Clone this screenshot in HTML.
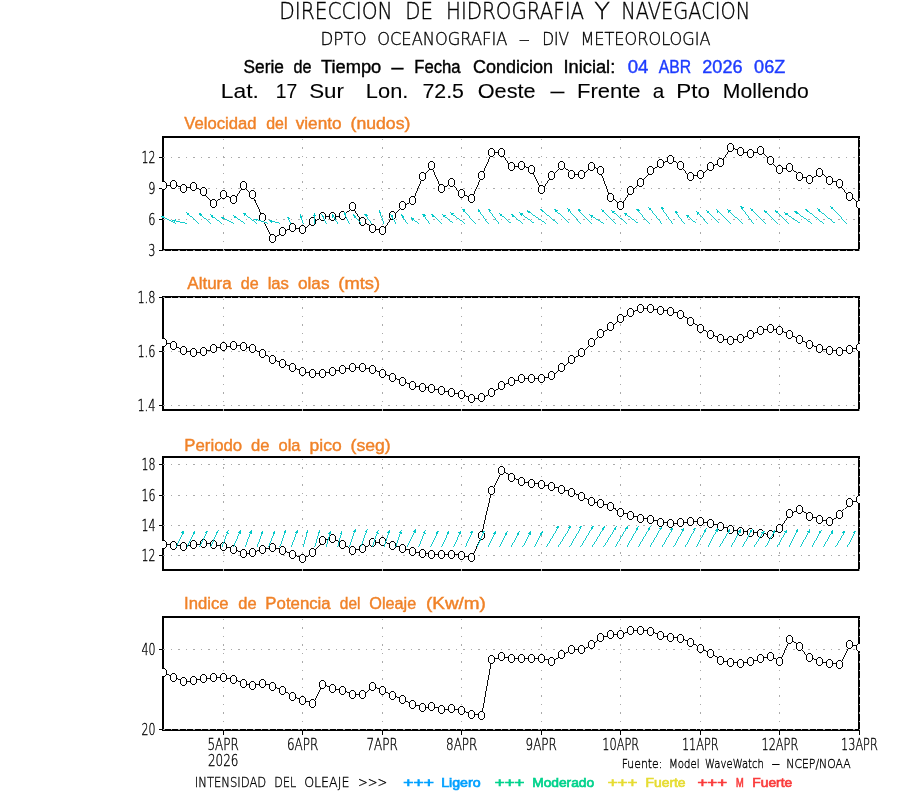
<!DOCTYPE html>
<html lang="es"><head><meta charset="utf-8"><title>Serie de Tiempo - Frente a Pto Mollendo</title>
<style>html,body{margin:0;padding:0;background:#fff;overflow:hidden}svg{display:block;will-change:transform}text{white-space:pre}.t{font-family:"DejaVu Sans","Liberation Sans",sans-serif;font-weight:200;word-spacing:.25em;stroke:#000;stroke-width:.35px}.m{font-family:"Liberation Sans",sans-serif;word-spacing:.25em;stroke-width:.4px}</style>
</head><body>
<svg width="900" height="800" viewBox="0 0 900 800">
<rect width="900" height="800" fill="#fff"/>
<g id="header">
<text y="18.9" font-size="22.9" class="t" fill="#000"><tspan x="279.18" textLength="113.46" lengthAdjust="spacingAndGlyphs">DIRECCION</tspan> <tspan x="405.28" textLength="27.66" lengthAdjust="spacingAndGlyphs">DE</tspan> <tspan x="446.08" textLength="138.06" lengthAdjust="spacingAndGlyphs">HIDROGRAFIA</tspan> <tspan x="594.16" textLength="15.77" lengthAdjust="spacingAndGlyphs">Y</tspan> <tspan x="621.28" textLength="128.96" lengthAdjust="spacingAndGlyphs">NAVEGACION</tspan></text>
<text y="45.3" font-size="17.1" class="t" fill="#000"><tspan x="320.42" textLength="46.14" lengthAdjust="spacingAndGlyphs">DPTO</tspan> <tspan x="377.22" textLength="130.14" lengthAdjust="spacingAndGlyphs">OCEANOGRAFIA</tspan> <tspan x="518.74" textLength="11.13" lengthAdjust="spacingAndGlyphs">–</tspan> <tspan x="542.22" textLength="26.94" lengthAdjust="spacingAndGlyphs">DIV</tspan> <tspan x="580.42" textLength="130.14" lengthAdjust="spacingAndGlyphs">METEOROLOGIA</tspan></text>
<text y="72.7" font-size="18" class="m" fill="#000" stroke="#000"><tspan x="243.58" textLength="40.26" lengthAdjust="spacingAndGlyphs">Serie</tspan> <tspan x="293.58" textLength="17.96" lengthAdjust="spacingAndGlyphs">de</tspan> <tspan x="320.98" textLength="60.26" lengthAdjust="spacingAndGlyphs">Tiempo</tspan> <tspan x="391.56" textLength="11.85" lengthAdjust="spacingAndGlyphs">–</tspan> <tspan x="414.28" textLength="46.26" lengthAdjust="spacingAndGlyphs">Fecha</tspan> <tspan x="472.88" textLength="80.16" lengthAdjust="spacingAndGlyphs">Condicion</tspan> <tspan x="563.48" textLength="51.76" lengthAdjust="spacingAndGlyphs">Inicial:</tspan></text>
<text y="72.7" font-size="18" class="m" fill="#1e3cff" stroke="#1e3cff"><tspan x="627.68" textLength="20.66" lengthAdjust="spacingAndGlyphs">04</tspan> <tspan x="658.78" textLength="32.36" lengthAdjust="spacingAndGlyphs">ABR</tspan> <tspan x="702.28" textLength="40.26" lengthAdjust="spacingAndGlyphs">2026</tspan> <tspan x="754.08" textLength="31.16" lengthAdjust="spacingAndGlyphs">06Z</tspan></text>
<text y="98.3" font-size="21" class="m" fill="#000" stroke="#000" style="stroke-width:0.1px"><tspan x="220.86" textLength="38.07" lengthAdjust="spacingAndGlyphs">Lat.</tspan> <tspan x="275.86" textLength="21.47" lengthAdjust="spacingAndGlyphs">17</tspan> <tspan x="309.16" textLength="34.77" lengthAdjust="spacingAndGlyphs">Sur</tspan> <tspan x="365.86" textLength="42.47" lengthAdjust="spacingAndGlyphs">Lon.</tspan> <tspan x="422.46" textLength="41.47" lengthAdjust="spacingAndGlyphs">72.5</tspan> <tspan x="477.76" textLength="57.87" lengthAdjust="spacingAndGlyphs">Oeste</tspan> <tspan x="550.43" textLength="13.89" lengthAdjust="spacingAndGlyphs">–</tspan> <tspan x="576.96" textLength="63.67" lengthAdjust="spacingAndGlyphs">Frente</tspan> <tspan x="652.73" textLength="11.49" lengthAdjust="spacingAndGlyphs">a</tspan> <tspan x="676.16" textLength="33.77" lengthAdjust="spacingAndGlyphs">Pto</tspan> <tspan x="722.86" textLength="85.87" lengthAdjust="spacingAndGlyphs">Mollendo</tspan></text>
</g>
<g id="panel1">
<text y="128.9" font-size="15.8" class="m" fill="#f08228" stroke="#f08228"><tspan x="184.37" textLength="72.21" lengthAdjust="spacingAndGlyphs">Velocidad</tspan> <tspan x="266.17" textLength="21.31" lengthAdjust="spacingAndGlyphs">del</tspan> <tspan x="295.67" textLength="45.91" lengthAdjust="spacingAndGlyphs">viento</tspan> <tspan x="350.57" textLength="59.81" lengthAdjust="spacingAndGlyphs">(nudos)</tspan></text>
<rect x="163.0" y="137" width="696.0" height="113" fill="none" stroke="#000" stroke-width="2" shape-rendering="crispEdges"/>
<g stroke="#aaaaaa" stroke-width="1" shape-rendering="crispEdges" fill="none">
<line x1="163.0" y1="157.6" x2="859.0" y2="157.6" stroke-dasharray="1.7 5.8"/>
<line x1="163.0" y1="188.6" x2="859.0" y2="188.6" stroke-dasharray="1.7 5.8"/>
<line x1="163.0" y1="219.5" x2="859.0" y2="219.5" stroke-dasharray="1.7 5.8"/>
<line x1="163.0" y1="250" x2="859.0" y2="250" stroke-dasharray="1.7 5.8"/>
<line x1="223.16" y1="250.8" x2="223.16" y2="137" stroke-dasharray="1.7 6.8"/>
<line x1="302.7" y1="250.8" x2="302.7" y2="137" stroke-dasharray="1.7 6.8"/>
<line x1="382.24" y1="250.8" x2="382.24" y2="137" stroke-dasharray="1.7 6.8"/>
<line x1="461.79" y1="250.8" x2="461.79" y2="137" stroke-dasharray="1.7 6.8"/>
<line x1="541.33" y1="250.8" x2="541.33" y2="137" stroke-dasharray="1.7 6.8"/>
<line x1="620.87" y1="250.8" x2="620.87" y2="137" stroke-dasharray="1.7 6.8"/>
<line x1="700.41" y1="250.8" x2="700.41" y2="137" stroke-dasharray="1.7 6.8"/>
<line x1="779.96" y1="250.8" x2="779.96" y2="137" stroke-dasharray="1.7 6.8"/>
<line x1="859.5" y1="250.8" x2="859.5" y2="137" stroke-dasharray="1.7 6.8"/>
</g>
<g stroke="#000" stroke-width="1" shape-rendering="crispEdges">
<line x1="159.0" y1="157.6" x2="163.0" y2="157.6"/>
<line x1="159.0" y1="188.6" x2="163.0" y2="188.6"/>
<line x1="159.0" y1="219.5" x2="163.0" y2="219.5"/>
<line x1="159.0" y1="250" x2="163.0" y2="250"/>
</g>
<text x="141.4" y="163.2" font-size="15.4" class="t" fill="#000" textLength="14" lengthAdjust="spacingAndGlyphs">12</text>
<text x="148.2" y="194.2" font-size="15.4" class="t" fill="#000" textLength="7.2" lengthAdjust="spacingAndGlyphs">9</text>
<text x="148.2" y="225.1" font-size="15.4" class="t" fill="#000" textLength="7.2" lengthAdjust="spacingAndGlyphs">6</text>
<text x="148.2" y="255.6" font-size="15.4" class="t" fill="#000" textLength="7.2" lengthAdjust="spacingAndGlyphs">3</text>
<clipPath id="c0"><rect x="162.0" y="137" width="698.0" height="113"/></clipPath>
<g clip-path="url(#c0)" shape-rendering="crispEdges">
<polyline points="163.5,185.5 173.5,184.5 183.5,188.5 193.5,186.5 203.5,191.5 213.5,203.5 223.5,194.5 233.5,199.5 243.5,185.5 252.5,194.5 262.5,217.5 272.5,238.5 282.5,231.5 292.5,227.5 302.5,229.5 312.5,221.5 322.5,216.5 332.5,216.5 342.5,215.5 352.5,206.5 362.5,221.5 372.5,228.5 382.5,230.5 392.5,215.5 402.5,205.5 412.5,200.5 422.5,176.5 431.5,165.5 441.5,188.5 451.5,182.5 461.5,193.5 471.5,198.5 481.5,175.5 491.5,152.5 501.5,152.5 511.5,166.5 521.5,165.5 531.5,169.5 541.5,189.5 551.5,175.5 561.5,165.5 571.5,174.5 581.5,174.5 591.5,166.5 600.5,170.5 610.5,197.5 620.5,205.5 630.5,190.5 640.5,182.5 650.5,170.5 660.5,163.5 670.5,159.5 680.5,165.5 690.5,176.5 700.5,174.5 710.5,166.5 720.5,162.5 730.5,147.5 740.5,151.5 750.5,153.5 760.5,150.5 770.5,160.5 779.5,169.5 789.5,167.5 799.5,176.5 809.5,179.5 819.5,172.5 829.5,180.5 839.5,183.5 849.5,196.5 859.5,204.5" fill="none" stroke="#000" stroke-width="0.95"/>
<g fill="#fff" stroke="#000" stroke-width="1">
<path d="M162.5 181.5h2l2 2v4l-2 2h-2l-2 -2v-4z"/>
<path d="M172.5 180.5h2l2 2v4l-2 2h-2l-2 -2v-4z"/>
<path d="M182.5 184.5h2l2 2v4l-2 2h-2l-2 -2v-4z"/>
<path d="M192.5 182.5h2l2 2v4l-2 2h-2l-2 -2v-4z"/>
<path d="M202.5 187.5h2l2 2v4l-2 2h-2l-2 -2v-4z"/>
<path d="M212.5 199.5h2l2 2v4l-2 2h-2l-2 -2v-4z"/>
<path d="M222.5 190.5h2l2 2v4l-2 2h-2l-2 -2v-4z"/>
<path d="M232.5 195.5h2l2 2v4l-2 2h-2l-2 -2v-4z"/>
<path d="M242.5 181.5h2l2 2v4l-2 2h-2l-2 -2v-4z"/>
<path d="M251.5 190.5h2l2 2v4l-2 2h-2l-2 -2v-4z"/>
<path d="M261.5 213.5h2l2 2v4l-2 2h-2l-2 -2v-4z"/>
<path d="M271.5 234.5h2l2 2v4l-2 2h-2l-2 -2v-4z"/>
<path d="M281.5 227.5h2l2 2v4l-2 2h-2l-2 -2v-4z"/>
<path d="M291.5 223.5h2l2 2v4l-2 2h-2l-2 -2v-4z"/>
<path d="M301.5 225.5h2l2 2v4l-2 2h-2l-2 -2v-4z"/>
<path d="M311.5 217.5h2l2 2v4l-2 2h-2l-2 -2v-4z"/>
<path d="M321.5 212.5h2l2 2v4l-2 2h-2l-2 -2v-4z"/>
<path d="M331.5 212.5h2l2 2v4l-2 2h-2l-2 -2v-4z"/>
<path d="M341.5 211.5h2l2 2v4l-2 2h-2l-2 -2v-4z"/>
<path d="M351.5 202.5h2l2 2v4l-2 2h-2l-2 -2v-4z"/>
<path d="M361.5 217.5h2l2 2v4l-2 2h-2l-2 -2v-4z"/>
<path d="M371.5 224.5h2l2 2v4l-2 2h-2l-2 -2v-4z"/>
<path d="M381.5 226.5h2l2 2v4l-2 2h-2l-2 -2v-4z"/>
<path d="M391.5 211.5h2l2 2v4l-2 2h-2l-2 -2v-4z"/>
<path d="M401.5 201.5h2l2 2v4l-2 2h-2l-2 -2v-4z"/>
<path d="M411.5 196.5h2l2 2v4l-2 2h-2l-2 -2v-4z"/>
<path d="M421.5 172.5h2l2 2v4l-2 2h-2l-2 -2v-4z"/>
<path d="M430.5 161.5h2l2 2v4l-2 2h-2l-2 -2v-4z"/>
<path d="M440.5 184.5h2l2 2v4l-2 2h-2l-2 -2v-4z"/>
<path d="M450.5 178.5h2l2 2v4l-2 2h-2l-2 -2v-4z"/>
<path d="M460.5 189.5h2l2 2v4l-2 2h-2l-2 -2v-4z"/>
<path d="M470.5 194.5h2l2 2v4l-2 2h-2l-2 -2v-4z"/>
<path d="M480.5 171.5h2l2 2v4l-2 2h-2l-2 -2v-4z"/>
<path d="M490.5 148.5h2l2 2v4l-2 2h-2l-2 -2v-4z"/>
<path d="M500.5 148.5h2l2 2v4l-2 2h-2l-2 -2v-4z"/>
<path d="M510.5 162.5h2l2 2v4l-2 2h-2l-2 -2v-4z"/>
<path d="M520.5 161.5h2l2 2v4l-2 2h-2l-2 -2v-4z"/>
<path d="M530.5 165.5h2l2 2v4l-2 2h-2l-2 -2v-4z"/>
<path d="M540.5 185.5h2l2 2v4l-2 2h-2l-2 -2v-4z"/>
<path d="M550.5 171.5h2l2 2v4l-2 2h-2l-2 -2v-4z"/>
<path d="M560.5 161.5h2l2 2v4l-2 2h-2l-2 -2v-4z"/>
<path d="M570.5 170.5h2l2 2v4l-2 2h-2l-2 -2v-4z"/>
<path d="M580.5 170.5h2l2 2v4l-2 2h-2l-2 -2v-4z"/>
<path d="M590.5 162.5h2l2 2v4l-2 2h-2l-2 -2v-4z"/>
<path d="M599.5 166.5h2l2 2v4l-2 2h-2l-2 -2v-4z"/>
<path d="M609.5 193.5h2l2 2v4l-2 2h-2l-2 -2v-4z"/>
<path d="M619.5 201.5h2l2 2v4l-2 2h-2l-2 -2v-4z"/>
<path d="M629.5 186.5h2l2 2v4l-2 2h-2l-2 -2v-4z"/>
<path d="M639.5 178.5h2l2 2v4l-2 2h-2l-2 -2v-4z"/>
<path d="M649.5 166.5h2l2 2v4l-2 2h-2l-2 -2v-4z"/>
<path d="M659.5 159.5h2l2 2v4l-2 2h-2l-2 -2v-4z"/>
<path d="M669.5 155.5h2l2 2v4l-2 2h-2l-2 -2v-4z"/>
<path d="M679.5 161.5h2l2 2v4l-2 2h-2l-2 -2v-4z"/>
<path d="M689.5 172.5h2l2 2v4l-2 2h-2l-2 -2v-4z"/>
<path d="M699.5 170.5h2l2 2v4l-2 2h-2l-2 -2v-4z"/>
<path d="M709.5 162.5h2l2 2v4l-2 2h-2l-2 -2v-4z"/>
<path d="M719.5 158.5h2l2 2v4l-2 2h-2l-2 -2v-4z"/>
<path d="M729.5 143.5h2l2 2v4l-2 2h-2l-2 -2v-4z"/>
<path d="M739.5 147.5h2l2 2v4l-2 2h-2l-2 -2v-4z"/>
<path d="M749.5 149.5h2l2 2v4l-2 2h-2l-2 -2v-4z"/>
<path d="M759.5 146.5h2l2 2v4l-2 2h-2l-2 -2v-4z"/>
<path d="M769.5 156.5h2l2 2v4l-2 2h-2l-2 -2v-4z"/>
<path d="M778.5 165.5h2l2 2v4l-2 2h-2l-2 -2v-4z"/>
<path d="M788.5 163.5h2l2 2v4l-2 2h-2l-2 -2v-4z"/>
<path d="M798.5 172.5h2l2 2v4l-2 2h-2l-2 -2v-4z"/>
<path d="M808.5 175.5h2l2 2v4l-2 2h-2l-2 -2v-4z"/>
<path d="M818.5 168.5h2l2 2v4l-2 2h-2l-2 -2v-4z"/>
<path d="M828.5 176.5h2l2 2v4l-2 2h-2l-2 -2v-4z"/>
<path d="M838.5 179.5h2l2 2v4l-2 2h-2l-2 -2v-4z"/>
<path d="M848.5 192.5h2l2 2v4l-2 2h-2l-2 -2v-4z"/>
<path d="M858.5 200.5h2l2 2v4l-2 2h-2l-2 -2v-4z"/>
</g></g>
<g stroke="#00c8c8" stroke-width="0.92" fill="#00c8c8" shape-rendering="crispEdges">
<path d="M175.8 223.5L160.8 216"/><path stroke="none" d="M164.51 216.18L160.8 216L163.17 218.86Z"/>
<path d="M187.37 223.5L171.97 220.2"/><path stroke="none" d="M175.61 219.45L171.97 220.2L174.98 222.38Z"/>
<path d="M198.93 223.5L186.03 212.2"/><path stroke="none" d="M189.58 213.31L186.03 212.2L187.6 215.57Z"/>
<path d="M210.5 223.5L198.6 212.7"/><path stroke="none" d="M202.13 213.87L198.6 212.7L200.11 216.1Z"/>
<path d="M222.07 223.5L210.37 214.9"/><path stroke="none" d="M214 215.71L210.37 214.9L212.22 218.12Z"/>
<path d="M233.64 223.5L220.84 216.9"/><path stroke="none" d="M224.54 217.12L220.84 216.9L223.17 219.79Z"/>
<path d="M245.2 223.5L232.7 215.2"/><path stroke="none" d="M236.36 215.83L232.7 215.2L234.7 218.33Z"/>
<path d="M256.77 223.5L242.87 212.7"/><path stroke="none" d="M246.47 213.6L242.87 212.7L244.63 215.97Z"/>
<path d="M268.34 223.5L254.14 218.9"/><path stroke="none" d="M257.83 218.52L254.14 218.9L256.91 221.37Z"/>
<path d="M279.9 223.5L268.5 220.7"/><path stroke="none" d="M272.16 220.05L268.5 220.7L271.45 222.97Z"/>
<path d="M291.47 223.5L287.87 216.5"/><path stroke="none" d="M290.76 218.84L287.87 216.5L288.09 220.21Z"/>
<path d="M303.04 223.5L300.54 214.4"/><path stroke="none" d="M302.88 217.28L300.54 214.4L299.99 218.08Z"/>
<path d="M314.6 223.5L314.6 212.7"/><path stroke="none" d="M316.1 216.1L314.6 212.7L313.1 216.1Z"/>
<path d="M326.17 223.5L321.57 213.9"/><path stroke="none" d="M324.39 216.32L321.57 213.9L321.69 217.61Z"/>
<path d="M337.74 223.5L331.94 213.9"/><path stroke="none" d="M334.98 216.03L331.94 213.9L332.41 217.59Z"/>
<path d="M349.31 223.5L343.81 211.9"/><path stroke="none" d="M346.62 214.33L343.81 211.9L343.91 215.61Z"/>
<path d="M360.87 223.5L353.07 214.4"/><path stroke="none" d="M356.42 216.01L353.07 214.4L354.15 217.96Z"/>
<path d="M372.44 223.5L364.94 213.5"/><path stroke="none" d="M368.18 215.32L364.94 213.5L365.78 217.12Z"/>
<path d="M384.01 223.5L378.71 209.7"/><path stroke="none" d="M381.33 212.34L378.71 209.7L378.52 213.41Z"/>
<path d="M395.57 223.5L390.57 213.9"/><path stroke="none" d="M393.47 216.22L390.57 213.9L390.81 217.61Z"/>
<path d="M407.14 223.5L401.24 214.4"/><path stroke="none" d="M404.35 216.44L401.24 214.4L401.83 218.07Z"/>
<path d="M418.71 223.5L410.71 217.4"/><path stroke="none" d="M414.32 218.27L410.71 217.4L412.5 220.65Z"/>
<path d="M430.27 223.5L422.77 213.5"/><path stroke="none" d="M426.01 215.32L422.77 213.5L423.61 217.12Z"/>
<path d="M441.84 223.5L431.34 213.9"/><path stroke="none" d="M434.86 215.09L431.34 213.9L432.84 217.3Z"/>
<path d="M453.41 223.5L442.21 214.4"/><path stroke="none" d="M445.79 215.38L442.21 214.4L443.9 217.71Z"/>
<path d="M464.98 223.5L450.28 212.7"/><path stroke="none" d="M453.9 213.5L450.28 212.7L452.13 215.92Z"/>
<path d="M476.54 223.5L462.44 208.5"/><path stroke="none" d="M465.86 209.95L462.44 208.5L463.68 212Z"/>
<path d="M488.11 223.5L477.81 209"/><path stroke="none" d="M481 210.9L477.81 209L478.56 212.64Z"/>
<path d="M499.68 223.5L488.28 208.5"/><path stroke="none" d="M491.53 210.3L488.28 208.5L489.14 212.11Z"/>
<path d="M511.24 223.5L499.14 213.2"/><path stroke="none" d="M502.7 214.26L499.14 213.2L500.76 216.55Z"/>
<path d="M522.81 223.5L510.81 213.9"/><path stroke="none" d="M514.4 214.85L510.81 213.9L512.53 217.2Z"/>
<path d="M534.38 223.5L519.38 212.7"/><path stroke="none" d="M523.01 213.47L519.38 212.7L521.26 215.9Z"/>
<path d="M545.94 223.5L526.84 210.5"/><path stroke="none" d="M530.5 211.17L526.84 210.5L528.81 213.65Z"/>
<path d="M557.51 223.5L540.31 208.9"/><path stroke="none" d="M543.87 209.96L540.31 208.9L541.93 212.24Z"/>
<path d="M569.08 223.5L554.48 209"/><path stroke="none" d="M557.95 210.33L554.48 209L555.83 212.46Z"/>
<path d="M580.64 223.5L567.14 208.2"/><path stroke="none" d="M570.52 209.76L567.14 208.2L568.27 211.74Z"/>
<path d="M592.21 223.5L578.01 208.5"/><path stroke="none" d="M581.44 209.94L578.01 208.5L579.26 212Z"/>
<path d="M603.78 223.5L589.48 214.7"/><path stroke="none" d="M593.16 215.2L589.48 214.7L591.59 217.76Z"/>
<path d="M615.35 223.5L601.65 209.4"/><path stroke="none" d="M605.09 210.79L601.65 209.4L602.94 212.88Z"/>
<path d="M626.91 223.5L611.41 210.5"/><path stroke="none" d="M614.98 211.54L611.41 210.5L613.05 213.83Z"/>
<path d="M638.48 223.5L623.68 212.7"/><path stroke="none" d="M627.31 213.49L623.68 212.7L625.54 215.92Z"/>
<path d="M650.05 223.5L636.75 208.5"/><path stroke="none" d="M640.13 210.05L636.75 208.5L637.88 212.04Z"/>
<path d="M661.61 223.5L648.81 207.3"/><path stroke="none" d="M652.1 209.04L648.81 207.3L649.74 210.9Z"/>
<path d="M673.18 223.5L661.18 206.5"/><path stroke="none" d="M664.37 208.41L661.18 206.5L661.92 210.14Z"/>
<path d="M684.75 223.5L675.05 210.5"/><path stroke="none" d="M678.28 212.33L675.05 210.5L675.88 214.12Z"/>
<path d="M696.32 223.5L685.82 214.7"/><path stroke="none" d="M689.38 215.73L685.82 214.7L687.46 218.03Z"/>
<path d="M707.88 223.5L696.18 211.3"/><path stroke="none" d="M699.62 212.72L696.18 211.3L697.45 214.79Z"/>
<path d="M719.45 223.5L706.45 210.7"/><path stroke="none" d="M709.92 212.02L706.45 210.7L707.82 214.15Z"/>
<path d="M731.02 223.5L716.32 209.8"/><path stroke="none" d="M719.83 211.02L716.32 209.8L717.78 213.22Z"/>
<path d="M742.58 223.5L727.08 209.3"/><path stroke="none" d="M730.6 210.49L727.08 209.3L728.58 212.7Z"/>
<path d="M754.15 223.5L740.65 205.5"/><path stroke="none" d="M743.89 207.32L740.65 205.5L741.49 209.12Z"/>
<path d="M765.72 223.5L750.42 208.5"/><path stroke="none" d="M753.89 209.81L750.42 208.5L751.79 211.95Z"/>
<path d="M777.28 223.5L763.98 210.2"/><path stroke="none" d="M767.45 211.54L763.98 210.2L765.33 213.66Z"/>
<path d="M788.85 223.5L774.85 210.2"/><path stroke="none" d="M778.35 211.45L774.85 210.2L776.28 213.63Z"/>
<path d="M800.42 223.5L784.12 212.7"/><path stroke="none" d="M787.78 213.33L784.12 212.7L786.12 215.83Z"/>
<path d="M811.99 223.5L794.49 211"/><path stroke="none" d="M798.12 211.76L794.49 211L796.38 214.2Z"/>
<path d="M823.55 223.5L805.35 209"/><path stroke="none" d="M808.95 209.95L805.35 209L807.08 212.29Z"/>
<path d="M835.12 223.5L817.42 208.8"/><path stroke="none" d="M820.99 209.82L817.42 208.8L819.08 212.13Z"/>
<path d="M846.69 223.5L830.49 206.3"/><path stroke="none" d="M833.91 207.75L830.49 206.3L831.73 209.8Z"/>
</g>
</g>
<g id="panel2">
<text y="288.9" font-size="15.8" class="m" fill="#f08228" stroke="#f08228"><tspan x="187.27" textLength="44.51" lengthAdjust="spacingAndGlyphs">Altura</tspan> <tspan x="240.77" textLength="17.91" lengthAdjust="spacingAndGlyphs">de</tspan> <tspan x="267.67" textLength="21.31" lengthAdjust="spacingAndGlyphs">las</tspan> <tspan x="297.97" textLength="31.51" lengthAdjust="spacingAndGlyphs">olas</tspan> <tspan x="338.37" textLength="41.61" lengthAdjust="spacingAndGlyphs">(mts)</tspan></text>
<rect x="163.0" y="297" width="696.0" height="113" fill="none" stroke="#000" stroke-width="2" shape-rendering="crispEdges"/>
<g stroke="#aaaaaa" stroke-width="1" shape-rendering="crispEdges" fill="none">
<line x1="163.0" y1="297.4" x2="859.0" y2="297.4" stroke-dasharray="1.7 5.8"/>
<line x1="163.0" y1="351.2" x2="859.0" y2="351.2" stroke-dasharray="1.7 5.8"/>
<line x1="163.0" y1="405.5" x2="859.0" y2="405.5" stroke-dasharray="1.7 5.8"/>
<line x1="223.16" y1="410.8" x2="223.16" y2="297" stroke-dasharray="1.7 6.8"/>
<line x1="302.7" y1="410.8" x2="302.7" y2="297" stroke-dasharray="1.7 6.8"/>
<line x1="382.24" y1="410.8" x2="382.24" y2="297" stroke-dasharray="1.7 6.8"/>
<line x1="461.79" y1="410.8" x2="461.79" y2="297" stroke-dasharray="1.7 6.8"/>
<line x1="541.33" y1="410.8" x2="541.33" y2="297" stroke-dasharray="1.7 6.8"/>
<line x1="620.87" y1="410.8" x2="620.87" y2="297" stroke-dasharray="1.7 6.8"/>
<line x1="700.41" y1="410.8" x2="700.41" y2="297" stroke-dasharray="1.7 6.8"/>
<line x1="779.96" y1="410.8" x2="779.96" y2="297" stroke-dasharray="1.7 6.8"/>
<line x1="859.5" y1="410.8" x2="859.5" y2="297" stroke-dasharray="1.7 6.8"/>
</g>
<g stroke="#000" stroke-width="1" shape-rendering="crispEdges">
<line x1="159.0" y1="297.4" x2="163.0" y2="297.4"/>
<line x1="159.0" y1="351.2" x2="163.0" y2="351.2"/>
<line x1="159.0" y1="405.5" x2="163.0" y2="405.5"/>
</g>
<text x="137.4" y="303" font-size="15.4" class="t" fill="#000" textLength="18" lengthAdjust="spacingAndGlyphs">1.8</text>
<text x="137.4" y="356.8" font-size="15.4" class="t" fill="#000" textLength="18" lengthAdjust="spacingAndGlyphs">1.6</text>
<text x="137.4" y="411.1" font-size="15.4" class="t" fill="#000" textLength="18" lengthAdjust="spacingAndGlyphs">1.4</text>
<clipPath id="c1"><rect x="162.0" y="297" width="698.0" height="113"/></clipPath>
<g clip-path="url(#c1)" shape-rendering="crispEdges">
<polyline points="163.5,342.5 173.5,345.5 183.5,350.5 193.5,352.5 203.5,351.5 213.5,348.5 223.5,346.5 233.5,345.5 243.5,346.5 252.5,348.5 262.5,353.5 272.5,359.5 282.5,363.5 292.5,367.5 302.5,371.5 312.5,373.5 322.5,373.5 332.5,371.5 342.5,369.5 352.5,367.5 362.5,367.5 372.5,369.5 382.5,373.5 392.5,377.5 402.5,381.5 412.5,385.5 422.5,387.5 431.5,388.5 441.5,390.5 451.5,392.5 461.5,394.5 471.5,398.5 481.5,397.5 491.5,392.5 501.5,385.5 511.5,381.5 521.5,378.5 531.5,378.5 541.5,378.5 551.5,375.5 561.5,367.5 571.5,359.5 581.5,352.5 591.5,342.5 600.5,333.5 610.5,326.5 620.5,318.5 630.5,312.5 640.5,308.5 650.5,308.5 660.5,310.5 670.5,311.5 680.5,314.5 690.5,321.5 700.5,328.5 710.5,334.5 720.5,338.5 730.5,340.5 740.5,338.5 750.5,334.5 760.5,330.5 770.5,328.5 779.5,330.5 789.5,334.5 799.5,339.5 809.5,344.5 819.5,348.5 829.5,350.5 839.5,351.5 849.5,349.5 859.5,347.5" fill="none" stroke="#000" stroke-width="0.95"/>
<g fill="#fff" stroke="#000" stroke-width="1">
<path d="M162.5 338.5h2l2 2v4l-2 2h-2l-2 -2v-4z"/>
<path d="M172.5 341.5h2l2 2v4l-2 2h-2l-2 -2v-4z"/>
<path d="M182.5 346.5h2l2 2v4l-2 2h-2l-2 -2v-4z"/>
<path d="M192.5 348.5h2l2 2v4l-2 2h-2l-2 -2v-4z"/>
<path d="M202.5 347.5h2l2 2v4l-2 2h-2l-2 -2v-4z"/>
<path d="M212.5 344.5h2l2 2v4l-2 2h-2l-2 -2v-4z"/>
<path d="M222.5 342.5h2l2 2v4l-2 2h-2l-2 -2v-4z"/>
<path d="M232.5 341.5h2l2 2v4l-2 2h-2l-2 -2v-4z"/>
<path d="M242.5 342.5h2l2 2v4l-2 2h-2l-2 -2v-4z"/>
<path d="M251.5 344.5h2l2 2v4l-2 2h-2l-2 -2v-4z"/>
<path d="M261.5 349.5h2l2 2v4l-2 2h-2l-2 -2v-4z"/>
<path d="M271.5 355.5h2l2 2v4l-2 2h-2l-2 -2v-4z"/>
<path d="M281.5 359.5h2l2 2v4l-2 2h-2l-2 -2v-4z"/>
<path d="M291.5 363.5h2l2 2v4l-2 2h-2l-2 -2v-4z"/>
<path d="M301.5 367.5h2l2 2v4l-2 2h-2l-2 -2v-4z"/>
<path d="M311.5 369.5h2l2 2v4l-2 2h-2l-2 -2v-4z"/>
<path d="M321.5 369.5h2l2 2v4l-2 2h-2l-2 -2v-4z"/>
<path d="M331.5 367.5h2l2 2v4l-2 2h-2l-2 -2v-4z"/>
<path d="M341.5 365.5h2l2 2v4l-2 2h-2l-2 -2v-4z"/>
<path d="M351.5 363.5h2l2 2v4l-2 2h-2l-2 -2v-4z"/>
<path d="M361.5 363.5h2l2 2v4l-2 2h-2l-2 -2v-4z"/>
<path d="M371.5 365.5h2l2 2v4l-2 2h-2l-2 -2v-4z"/>
<path d="M381.5 369.5h2l2 2v4l-2 2h-2l-2 -2v-4z"/>
<path d="M391.5 373.5h2l2 2v4l-2 2h-2l-2 -2v-4z"/>
<path d="M401.5 377.5h2l2 2v4l-2 2h-2l-2 -2v-4z"/>
<path d="M411.5 381.5h2l2 2v4l-2 2h-2l-2 -2v-4z"/>
<path d="M421.5 383.5h2l2 2v4l-2 2h-2l-2 -2v-4z"/>
<path d="M430.5 384.5h2l2 2v4l-2 2h-2l-2 -2v-4z"/>
<path d="M440.5 386.5h2l2 2v4l-2 2h-2l-2 -2v-4z"/>
<path d="M450.5 388.5h2l2 2v4l-2 2h-2l-2 -2v-4z"/>
<path d="M460.5 390.5h2l2 2v4l-2 2h-2l-2 -2v-4z"/>
<path d="M470.5 394.5h2l2 2v4l-2 2h-2l-2 -2v-4z"/>
<path d="M480.5 393.5h2l2 2v4l-2 2h-2l-2 -2v-4z"/>
<path d="M490.5 388.5h2l2 2v4l-2 2h-2l-2 -2v-4z"/>
<path d="M500.5 381.5h2l2 2v4l-2 2h-2l-2 -2v-4z"/>
<path d="M510.5 377.5h2l2 2v4l-2 2h-2l-2 -2v-4z"/>
<path d="M520.5 374.5h2l2 2v4l-2 2h-2l-2 -2v-4z"/>
<path d="M530.5 374.5h2l2 2v4l-2 2h-2l-2 -2v-4z"/>
<path d="M540.5 374.5h2l2 2v4l-2 2h-2l-2 -2v-4z"/>
<path d="M550.5 371.5h2l2 2v4l-2 2h-2l-2 -2v-4z"/>
<path d="M560.5 363.5h2l2 2v4l-2 2h-2l-2 -2v-4z"/>
<path d="M570.5 355.5h2l2 2v4l-2 2h-2l-2 -2v-4z"/>
<path d="M580.5 348.5h2l2 2v4l-2 2h-2l-2 -2v-4z"/>
<path d="M590.5 338.5h2l2 2v4l-2 2h-2l-2 -2v-4z"/>
<path d="M599.5 329.5h2l2 2v4l-2 2h-2l-2 -2v-4z"/>
<path d="M609.5 322.5h2l2 2v4l-2 2h-2l-2 -2v-4z"/>
<path d="M619.5 314.5h2l2 2v4l-2 2h-2l-2 -2v-4z"/>
<path d="M629.5 308.5h2l2 2v4l-2 2h-2l-2 -2v-4z"/>
<path d="M639.5 304.5h2l2 2v4l-2 2h-2l-2 -2v-4z"/>
<path d="M649.5 304.5h2l2 2v4l-2 2h-2l-2 -2v-4z"/>
<path d="M659.5 306.5h2l2 2v4l-2 2h-2l-2 -2v-4z"/>
<path d="M669.5 307.5h2l2 2v4l-2 2h-2l-2 -2v-4z"/>
<path d="M679.5 310.5h2l2 2v4l-2 2h-2l-2 -2v-4z"/>
<path d="M689.5 317.5h2l2 2v4l-2 2h-2l-2 -2v-4z"/>
<path d="M699.5 324.5h2l2 2v4l-2 2h-2l-2 -2v-4z"/>
<path d="M709.5 330.5h2l2 2v4l-2 2h-2l-2 -2v-4z"/>
<path d="M719.5 334.5h2l2 2v4l-2 2h-2l-2 -2v-4z"/>
<path d="M729.5 336.5h2l2 2v4l-2 2h-2l-2 -2v-4z"/>
<path d="M739.5 334.5h2l2 2v4l-2 2h-2l-2 -2v-4z"/>
<path d="M749.5 330.5h2l2 2v4l-2 2h-2l-2 -2v-4z"/>
<path d="M759.5 326.5h2l2 2v4l-2 2h-2l-2 -2v-4z"/>
<path d="M769.5 324.5h2l2 2v4l-2 2h-2l-2 -2v-4z"/>
<path d="M778.5 326.5h2l2 2v4l-2 2h-2l-2 -2v-4z"/>
<path d="M788.5 330.5h2l2 2v4l-2 2h-2l-2 -2v-4z"/>
<path d="M798.5 335.5h2l2 2v4l-2 2h-2l-2 -2v-4z"/>
<path d="M808.5 340.5h2l2 2v4l-2 2h-2l-2 -2v-4z"/>
<path d="M818.5 344.5h2l2 2v4l-2 2h-2l-2 -2v-4z"/>
<path d="M828.5 346.5h2l2 2v4l-2 2h-2l-2 -2v-4z"/>
<path d="M838.5 347.5h2l2 2v4l-2 2h-2l-2 -2v-4z"/>
<path d="M848.5 345.5h2l2 2v4l-2 2h-2l-2 -2v-4z"/>
<path d="M858.5 343.5h2l2 2v4l-2 2h-2l-2 -2v-4z"/>
</g></g>
</g>
<g id="panel3">
<text y="450.8" font-size="17" class="m" fill="#f08228" stroke="#f08228"><tspan x="184.32" textLength="57.89" lengthAdjust="spacingAndGlyphs">Periodo</tspan> <tspan x="251.12" textLength="18.49" lengthAdjust="spacingAndGlyphs">de</tspan> <tspan x="278.52" textLength="21.99" lengthAdjust="spacingAndGlyphs">ola</tspan> <tspan x="309.52" textLength="32.09" lengthAdjust="spacingAndGlyphs">pico</tspan> <tspan x="350.52" textLength="40.19" lengthAdjust="spacingAndGlyphs">(seg)</tspan></text>
<rect x="163.0" y="457" width="696.0" height="113" fill="none" stroke="#000" stroke-width="2" shape-rendering="crispEdges"/>
<g stroke="#aaaaaa" stroke-width="1" shape-rendering="crispEdges" fill="none">
<line x1="163.0" y1="464.5" x2="859.0" y2="464.5" stroke-dasharray="1.7 5.8"/>
<line x1="163.0" y1="495" x2="859.0" y2="495" stroke-dasharray="1.7 5.8"/>
<line x1="163.0" y1="525.3" x2="859.0" y2="525.3" stroke-dasharray="1.7 5.8"/>
<line x1="163.0" y1="555.5" x2="859.0" y2="555.5" stroke-dasharray="1.7 5.8"/>
<line x1="223.16" y1="570.8" x2="223.16" y2="457" stroke-dasharray="1.7 6.8"/>
<line x1="302.7" y1="570.8" x2="302.7" y2="457" stroke-dasharray="1.7 6.8"/>
<line x1="382.24" y1="570.8" x2="382.24" y2="457" stroke-dasharray="1.7 6.8"/>
<line x1="461.79" y1="570.8" x2="461.79" y2="457" stroke-dasharray="1.7 6.8"/>
<line x1="541.33" y1="570.8" x2="541.33" y2="457" stroke-dasharray="1.7 6.8"/>
<line x1="620.87" y1="570.8" x2="620.87" y2="457" stroke-dasharray="1.7 6.8"/>
<line x1="700.41" y1="570.8" x2="700.41" y2="457" stroke-dasharray="1.7 6.8"/>
<line x1="779.96" y1="570.8" x2="779.96" y2="457" stroke-dasharray="1.7 6.8"/>
<line x1="859.5" y1="570.8" x2="859.5" y2="457" stroke-dasharray="1.7 6.8"/>
</g>
<g stroke="#000" stroke-width="1" shape-rendering="crispEdges">
<line x1="159.0" y1="464.5" x2="163.0" y2="464.5"/>
<line x1="159.0" y1="495" x2="163.0" y2="495"/>
<line x1="159.0" y1="525.3" x2="163.0" y2="525.3"/>
<line x1="159.0" y1="555.5" x2="163.0" y2="555.5"/>
</g>
<text x="141.4" y="470.1" font-size="15.4" class="t" fill="#000" textLength="14" lengthAdjust="spacingAndGlyphs">18</text>
<text x="141.4" y="500.6" font-size="15.4" class="t" fill="#000" textLength="14" lengthAdjust="spacingAndGlyphs">16</text>
<text x="141.4" y="530.9" font-size="15.4" class="t" fill="#000" textLength="14" lengthAdjust="spacingAndGlyphs">14</text>
<text x="141.4" y="561.1" font-size="15.4" class="t" fill="#000" textLength="14" lengthAdjust="spacingAndGlyphs">12</text>
<clipPath id="c2"><rect x="162.0" y="457" width="698.0" height="113"/></clipPath>
<g clip-path="url(#c2)" shape-rendering="crispEdges">
<polyline points="163.5,544.5 173.5,545.5 183.5,546.5 193.5,544.5 203.5,543.5 213.5,544.5 223.5,546.5 233.5,549.5 243.5,553.5 252.5,552.5 262.5,549.5 272.5,547.5 282.5,550.5 292.5,554.5 302.5,558.5 312.5,552.5 322.5,540.5 332.5,538.5 342.5,544.5 352.5,550.5 362.5,548.5 372.5,542.5 382.5,541.5 392.5,545.5 402.5,548.5 412.5,551.5 422.5,553.5 431.5,554.5 441.5,554.5 451.5,554.5 461.5,555.5 471.5,557.5 481.5,535.5 491.5,490.5 501.5,470.5 511.5,477.5 521.5,481.5 531.5,483.5 541.5,484.5 551.5,486.5 561.5,489.5 571.5,492.5 581.5,496.5 591.5,501.5 600.5,503.5 610.5,506.5 620.5,512.5 630.5,515.5 640.5,518.5 650.5,519.5 660.5,522.5 670.5,523.5 680.5,522.5 690.5,521.5 700.5,521.5 710.5,523.5 720.5,526.5 730.5,529.5 740.5,531.5 750.5,532.5 760.5,533.5 770.5,534.5 779.5,528.5 789.5,513.5 799.5,509.5 809.5,516.5 819.5,519.5 829.5,521.5 839.5,514.5 849.5,502.5 859.5,499.5" fill="none" stroke="#000" stroke-width="0.95"/>
<g fill="#fff" stroke="#000" stroke-width="1">
<path d="M162.5 540.5h2l2 2v4l-2 2h-2l-2 -2v-4z"/>
<path d="M172.5 541.5h2l2 2v4l-2 2h-2l-2 -2v-4z"/>
<path d="M182.5 542.5h2l2 2v4l-2 2h-2l-2 -2v-4z"/>
<path d="M192.5 540.5h2l2 2v4l-2 2h-2l-2 -2v-4z"/>
<path d="M202.5 539.5h2l2 2v4l-2 2h-2l-2 -2v-4z"/>
<path d="M212.5 540.5h2l2 2v4l-2 2h-2l-2 -2v-4z"/>
<path d="M222.5 542.5h2l2 2v4l-2 2h-2l-2 -2v-4z"/>
<path d="M232.5 545.5h2l2 2v4l-2 2h-2l-2 -2v-4z"/>
<path d="M242.5 549.5h2l2 2v4l-2 2h-2l-2 -2v-4z"/>
<path d="M251.5 548.5h2l2 2v4l-2 2h-2l-2 -2v-4z"/>
<path d="M261.5 545.5h2l2 2v4l-2 2h-2l-2 -2v-4z"/>
<path d="M271.5 543.5h2l2 2v4l-2 2h-2l-2 -2v-4z"/>
<path d="M281.5 546.5h2l2 2v4l-2 2h-2l-2 -2v-4z"/>
<path d="M291.5 550.5h2l2 2v4l-2 2h-2l-2 -2v-4z"/>
<path d="M301.5 554.5h2l2 2v4l-2 2h-2l-2 -2v-4z"/>
<path d="M311.5 548.5h2l2 2v4l-2 2h-2l-2 -2v-4z"/>
<path d="M321.5 536.5h2l2 2v4l-2 2h-2l-2 -2v-4z"/>
<path d="M331.5 534.5h2l2 2v4l-2 2h-2l-2 -2v-4z"/>
<path d="M341.5 540.5h2l2 2v4l-2 2h-2l-2 -2v-4z"/>
<path d="M351.5 546.5h2l2 2v4l-2 2h-2l-2 -2v-4z"/>
<path d="M361.5 544.5h2l2 2v4l-2 2h-2l-2 -2v-4z"/>
<path d="M371.5 538.5h2l2 2v4l-2 2h-2l-2 -2v-4z"/>
<path d="M381.5 537.5h2l2 2v4l-2 2h-2l-2 -2v-4z"/>
<path d="M391.5 541.5h2l2 2v4l-2 2h-2l-2 -2v-4z"/>
<path d="M401.5 544.5h2l2 2v4l-2 2h-2l-2 -2v-4z"/>
<path d="M411.5 547.5h2l2 2v4l-2 2h-2l-2 -2v-4z"/>
<path d="M421.5 549.5h2l2 2v4l-2 2h-2l-2 -2v-4z"/>
<path d="M430.5 550.5h2l2 2v4l-2 2h-2l-2 -2v-4z"/>
<path d="M440.5 550.5h2l2 2v4l-2 2h-2l-2 -2v-4z"/>
<path d="M450.5 550.5h2l2 2v4l-2 2h-2l-2 -2v-4z"/>
<path d="M460.5 551.5h2l2 2v4l-2 2h-2l-2 -2v-4z"/>
<path d="M470.5 553.5h2l2 2v4l-2 2h-2l-2 -2v-4z"/>
<path d="M480.5 531.5h2l2 2v4l-2 2h-2l-2 -2v-4z"/>
<path d="M490.5 486.5h2l2 2v4l-2 2h-2l-2 -2v-4z"/>
<path d="M500.5 466.5h2l2 2v4l-2 2h-2l-2 -2v-4z"/>
<path d="M510.5 473.5h2l2 2v4l-2 2h-2l-2 -2v-4z"/>
<path d="M520.5 477.5h2l2 2v4l-2 2h-2l-2 -2v-4z"/>
<path d="M530.5 479.5h2l2 2v4l-2 2h-2l-2 -2v-4z"/>
<path d="M540.5 480.5h2l2 2v4l-2 2h-2l-2 -2v-4z"/>
<path d="M550.5 482.5h2l2 2v4l-2 2h-2l-2 -2v-4z"/>
<path d="M560.5 485.5h2l2 2v4l-2 2h-2l-2 -2v-4z"/>
<path d="M570.5 488.5h2l2 2v4l-2 2h-2l-2 -2v-4z"/>
<path d="M580.5 492.5h2l2 2v4l-2 2h-2l-2 -2v-4z"/>
<path d="M590.5 497.5h2l2 2v4l-2 2h-2l-2 -2v-4z"/>
<path d="M599.5 499.5h2l2 2v4l-2 2h-2l-2 -2v-4z"/>
<path d="M609.5 502.5h2l2 2v4l-2 2h-2l-2 -2v-4z"/>
<path d="M619.5 508.5h2l2 2v4l-2 2h-2l-2 -2v-4z"/>
<path d="M629.5 511.5h2l2 2v4l-2 2h-2l-2 -2v-4z"/>
<path d="M639.5 514.5h2l2 2v4l-2 2h-2l-2 -2v-4z"/>
<path d="M649.5 515.5h2l2 2v4l-2 2h-2l-2 -2v-4z"/>
<path d="M659.5 518.5h2l2 2v4l-2 2h-2l-2 -2v-4z"/>
<path d="M669.5 519.5h2l2 2v4l-2 2h-2l-2 -2v-4z"/>
<path d="M679.5 518.5h2l2 2v4l-2 2h-2l-2 -2v-4z"/>
<path d="M689.5 517.5h2l2 2v4l-2 2h-2l-2 -2v-4z"/>
<path d="M699.5 517.5h2l2 2v4l-2 2h-2l-2 -2v-4z"/>
<path d="M709.5 519.5h2l2 2v4l-2 2h-2l-2 -2v-4z"/>
<path d="M719.5 522.5h2l2 2v4l-2 2h-2l-2 -2v-4z"/>
<path d="M729.5 525.5h2l2 2v4l-2 2h-2l-2 -2v-4z"/>
<path d="M739.5 527.5h2l2 2v4l-2 2h-2l-2 -2v-4z"/>
<path d="M749.5 528.5h2l2 2v4l-2 2h-2l-2 -2v-4z"/>
<path d="M759.5 529.5h2l2 2v4l-2 2h-2l-2 -2v-4z"/>
<path d="M769.5 530.5h2l2 2v4l-2 2h-2l-2 -2v-4z"/>
<path d="M778.5 524.5h2l2 2v4l-2 2h-2l-2 -2v-4z"/>
<path d="M788.5 509.5h2l2 2v4l-2 2h-2l-2 -2v-4z"/>
<path d="M798.5 505.5h2l2 2v4l-2 2h-2l-2 -2v-4z"/>
<path d="M808.5 512.5h2l2 2v4l-2 2h-2l-2 -2v-4z"/>
<path d="M818.5 515.5h2l2 2v4l-2 2h-2l-2 -2v-4z"/>
<path d="M828.5 517.5h2l2 2v4l-2 2h-2l-2 -2v-4z"/>
<path d="M838.5 510.5h2l2 2v4l-2 2h-2l-2 -2v-4z"/>
<path d="M848.5 498.5h2l2 2v4l-2 2h-2l-2 -2v-4z"/>
<path d="M858.5 495.5h2l2 2v4l-2 2h-2l-2 -2v-4z"/>
</g></g>
<g stroke="#00c8c8" stroke-width="0.92" fill="#00c8c8" shape-rendering="crispEdges">
<path d="M175.8 546.8L183.6 530.5"/><path stroke="none" d="M183.49 534.21L183.6 530.5L180.78 532.92Z"/>
<path d="M187.37 546.8L194.87 530.8"/><path stroke="none" d="M194.78 534.52L194.87 530.8L192.07 533.24Z"/>
<path d="M198.93 546.8L207.23 530.5"/><path stroke="none" d="M207.03 534.21L207.23 530.5L204.35 532.85Z"/>
<path d="M210.5 546.8L218.5 530"/><path stroke="none" d="M218.39 533.71L218.5 530L215.68 532.42Z"/>
<path d="M222.07 546.8L228.37 530"/><path stroke="none" d="M228.58 533.71L228.37 530L225.77 532.66Z"/>
<path d="M233.64 546.8L240.64 530"/><path stroke="none" d="M240.71 533.72L240.64 530L237.94 532.56Z"/>
<path d="M245.2 546.8L251.5 530"/><path stroke="none" d="M251.71 533.71L251.5 530L248.9 532.66Z"/>
<path d="M256.77 546.8L262.57 530.5"/><path stroke="none" d="M262.84 534.21L262.57 530.5L260.02 533.2Z"/>
<path d="M268.34 546.8L274.64 530.5"/><path stroke="none" d="M274.81 534.21L274.64 530.5L272.01 533.13Z"/>
<path d="M279.9 546.8L285.7 529.6"/><path stroke="none" d="M286.04 533.3L285.7 529.6L283.2 532.34Z"/>
<path d="M291.47 546.8L297.47 529.6"/><path stroke="none" d="M297.77 533.3L297.47 529.6L294.93 532.32Z"/>
<path d="M303.04 546.8L308.04 530"/><path stroke="none" d="M308.5 533.69L308.04 530L305.63 532.83Z"/>
<path d="M314.6 546.8L320.1 530.1"/><path stroke="none" d="M320.47 533.8L320.1 530.1L317.62 532.86Z"/>
<path d="M326.17 546.8L330.67 530.8"/><path stroke="none" d="M331.19 534.48L330.67 530.8L328.31 533.67Z"/>
<path d="M337.74 546.8L341.94 531"/><path stroke="none" d="M342.51 534.67L341.94 531L339.61 533.9Z"/>
<path d="M349.31 546.8L355.61 528.8"/><path stroke="none" d="M355.9 532.5L355.61 528.8L353.07 531.51Z"/>
<path d="M360.87 546.8L367.17 529.3"/><path stroke="none" d="M367.43 533.01L367.17 529.3L364.61 531.99Z"/>
<path d="M372.44 546.8L378.24 530"/><path stroke="none" d="M378.55 533.7L378.24 530L375.71 532.72Z"/>
<path d="M384.01 546.8L389.81 530"/><path stroke="none" d="M390.11 533.7L389.81 530L387.28 532.72Z"/>
<path d="M395.57 546.8L401.37 530"/><path stroke="none" d="M401.68 533.7L401.37 530L398.85 532.72Z"/>
<path d="M407.14 546.8L415.64 529.3"/><path stroke="none" d="M415.5 533.01L415.64 529.3L412.81 531.7Z"/>
<path d="M418.71 546.8L425.41 530"/><path stroke="none" d="M425.54 533.71L425.41 530L422.75 532.6Z"/>
<path d="M430.27 546.8L438.07 530.5"/><path stroke="none" d="M437.96 534.21L438.07 530.5L435.25 532.92Z"/>
<path d="M441.84 546.8L449.14 530.8"/><path stroke="none" d="M449.09 534.52L449.14 530.8L446.37 533.27Z"/>
<path d="M453.41 546.8L460.61 530.5"/><path stroke="none" d="M460.61 534.22L460.61 530.5L457.86 533Z"/>
<path d="M464.98 546.8L472.48 530.5"/><path stroke="none" d="M472.42 534.22L472.48 530.5L469.69 532.96Z"/>
<path d="M476.54 546.8L484.34 530.5"/><path stroke="none" d="M484.23 534.21L484.34 530.5L481.52 532.92Z"/>
<path d="M488.11 546.8L495.61 531.3"/><path stroke="none" d="M495.48 535.01L495.61 531.3L492.78 533.71Z"/>
<path d="M499.68 546.8L507.48 531.3"/><path stroke="none" d="M507.29 535.01L507.48 531.3L504.61 533.66Z"/>
<path d="M511.24 546.8L519.54 531.3"/><path stroke="none" d="M519.26 535.01L519.54 531.3L516.62 533.59Z"/>
<path d="M522.81 546.8L531.01 531.3"/><path stroke="none" d="M530.75 535.01L531.01 531.3L528.09 533.6Z"/>
<path d="M534.38 546.8L542.68 531.3"/><path stroke="none" d="M542.39 535.01L542.68 531.3L539.75 533.59Z"/>
<path d="M545.94 546.8L558.74 525.5"/><path stroke="none" d="M558.28 529.19L558.74 525.5L555.71 527.64Z"/>
<path d="M557.51 546.8L570.81 525.5"/><path stroke="none" d="M570.28 529.18L570.81 525.5L567.74 527.59Z"/>
<path d="M569.08 546.8L581.58 525.5"/><path stroke="none" d="M581.15 529.19L581.58 525.5L578.56 527.67Z"/>
<path d="M580.64 546.8L593.44 525.8"/><path stroke="none" d="M592.96 529.48L593.44 525.8L590.39 527.92Z"/>
<path d="M592.21 546.8L604.71 526.3"/><path stroke="none" d="M604.22 529.98L604.71 526.3L601.66 528.42Z"/>
<path d="M603.78 546.8L616.58 526.3"/><path stroke="none" d="M616.05 529.98L616.58 526.3L613.51 528.39Z"/>
<path d="M615.35 546.8L627.85 526"/><path stroke="none" d="M627.38 529.69L627.85 526L624.81 528.14Z"/>
<path d="M626.91 546.8L638.61 526.3"/><path stroke="none" d="M638.23 530L638.61 526.3L635.62 528.51Z"/>
<path d="M638.48 546.8L650.48 526.3"/><path stroke="none" d="M650.06 529.99L650.48 526.3L647.47 528.48Z"/>
<path d="M650.05 546.8L661.75 526.8"/><path stroke="none" d="M661.32 530.49L661.75 526.8L658.74 528.98Z"/>
<path d="M661.61 546.8L672.81 527.5"/><path stroke="none" d="M672.4 531.19L672.81 527.5L669.81 529.69Z"/>
<path d="M673.18 546.8L683.98 527.5"/><path stroke="none" d="M683.63 531.2L683.98 527.5L681.01 529.73Z"/>
<path d="M684.75 546.8L695.25 527.5"/><path stroke="none" d="M694.94 531.2L695.25 527.5L692.31 529.77Z"/>
<path d="M696.32 546.8L706.62 528.3"/><path stroke="none" d="M706.27 532L706.62 528.3L703.65 530.54Z"/>
<path d="M707.88 546.8L717.88 528.3"/><path stroke="none" d="M717.58 532L717.88 528.3L714.95 530.58Z"/>
<path d="M719.45 546.8L730.25 528.8"/><path stroke="none" d="M729.79 532.49L730.25 528.8L727.21 530.94Z"/>
<path d="M731.02 546.8L741.02 529.1"/><path stroke="none" d="M740.65 532.8L741.02 529.1L738.04 531.32Z"/>
<path d="M742.58 546.8L752.58 528.8"/><path stroke="none" d="M752.24 532.5L752.58 528.8L749.62 531.04Z"/>
<path d="M754.15 546.8L764.15 530.5"/><path stroke="none" d="M763.65 534.18L764.15 530.5L761.09 532.61Z"/>
<path d="M765.72 546.8L775.42 529.6"/><path stroke="none" d="M775.05 533.3L775.42 529.6L772.44 531.82Z"/>
<path d="M777.28 546.8L786.98 529.6"/><path stroke="none" d="M786.62 533.3L786.98 529.6L784.01 531.82Z"/>
<path d="M788.85 546.8L798.35 528.8"/><path stroke="none" d="M798.09 532.51L798.35 528.8L795.44 531.11Z"/>
<path d="M800.42 546.8L810.12 529.3"/><path stroke="none" d="M809.78 533L810.12 529.3L807.16 531.55Z"/>
<path d="M811.99 546.8L821.49 530"/><path stroke="none" d="M821.12 533.7L821.49 530L818.51 532.22Z"/>
<path d="M823.55 546.8L833.05 530"/><path stroke="none" d="M832.68 533.7L833.05 530L830.07 532.22Z"/>
<path d="M835.12 546.8L844.82 530.5"/><path stroke="none" d="M844.37 534.19L844.82 530.5L841.79 532.65Z"/>
<path d="M846.69 546.8L855.49 530.5"/><path stroke="none" d="M855.19 534.2L855.49 530.5L852.55 532.78Z"/>
</g>
</g>
<g id="panel4">
<text y="608.9" font-size="15.8" class="m" fill="#f08228" stroke="#f08228"><tspan x="184.07" textLength="44.41" lengthAdjust="spacingAndGlyphs">Indice</tspan> <tspan x="238.37" textLength="18.31" lengthAdjust="spacingAndGlyphs">de</tspan> <tspan x="265.37" textLength="65.31" lengthAdjust="spacingAndGlyphs">Potencia</tspan> <tspan x="339.87" textLength="20.61" lengthAdjust="spacingAndGlyphs">del</tspan> <tspan x="369.27" textLength="46.91" lengthAdjust="spacingAndGlyphs">Oleaje</tspan> <tspan x="426.07" textLength="59.81" lengthAdjust="spacingAndGlyphs">(Kw/m)</tspan></text>
<rect x="163.0" y="617" width="696.0" height="113" fill="none" stroke="#000" stroke-width="2" shape-rendering="crispEdges"/>
<g stroke="#aaaaaa" stroke-width="1" shape-rendering="crispEdges" fill="none">
<line x1="163.0" y1="649.5" x2="859.0" y2="649.5" stroke-dasharray="1.7 5.8"/>
<line x1="163.0" y1="729.6" x2="859.0" y2="729.6" stroke-dasharray="1.7 5.8"/>
<line x1="223.16" y1="730.8" x2="223.16" y2="617" stroke-dasharray="1.7 6.8"/>
<line x1="302.7" y1="730.8" x2="302.7" y2="617" stroke-dasharray="1.7 6.8"/>
<line x1="382.24" y1="730.8" x2="382.24" y2="617" stroke-dasharray="1.7 6.8"/>
<line x1="461.79" y1="730.8" x2="461.79" y2="617" stroke-dasharray="1.7 6.8"/>
<line x1="541.33" y1="730.8" x2="541.33" y2="617" stroke-dasharray="1.7 6.8"/>
<line x1="620.87" y1="730.8" x2="620.87" y2="617" stroke-dasharray="1.7 6.8"/>
<line x1="700.41" y1="730.8" x2="700.41" y2="617" stroke-dasharray="1.7 6.8"/>
<line x1="779.96" y1="730.8" x2="779.96" y2="617" stroke-dasharray="1.7 6.8"/>
<line x1="859.5" y1="730.8" x2="859.5" y2="617" stroke-dasharray="1.7 6.8"/>
</g>
<g stroke="#000" stroke-width="1" shape-rendering="crispEdges">
<line x1="159.0" y1="649.5" x2="163.0" y2="649.5"/>
<line x1="159.0" y1="729.6" x2="163.0" y2="729.6"/>
<line x1="223.16" y1="730" x2="223.16" y2="735"/>
<line x1="302.7" y1="730" x2="302.7" y2="735"/>
<line x1="382.24" y1="730" x2="382.24" y2="735"/>
<line x1="461.79" y1="730" x2="461.79" y2="735"/>
<line x1="541.33" y1="730" x2="541.33" y2="735"/>
<line x1="620.87" y1="730" x2="620.87" y2="735"/>
<line x1="700.41" y1="730" x2="700.41" y2="735"/>
<line x1="779.96" y1="730" x2="779.96" y2="735"/>
<line x1="859.5" y1="730" x2="859.5" y2="735"/>
</g>
<text x="141.4" y="655.1" font-size="15.4" class="t" fill="#000" textLength="14" lengthAdjust="spacingAndGlyphs">40</text>
<text x="141.4" y="735.2" font-size="15.4" class="t" fill="#000" textLength="14" lengthAdjust="spacingAndGlyphs">20</text>
<clipPath id="c3"><rect x="162.0" y="617" width="698.0" height="113"/></clipPath>
<g clip-path="url(#c3)" shape-rendering="crispEdges">
<polyline points="163.5,672.5 173.5,677.5 183.5,681.5 193.5,680.5 203.5,678.5 213.5,677.5 223.5,677.5 233.5,679.5 243.5,683.5 252.5,685.5 262.5,683.5 272.5,686.5 282.5,690.5 292.5,696.5 302.5,700.5 312.5,703.5 322.5,684.5 332.5,688.5 342.5,690.5 352.5,694.5 362.5,694.5 372.5,686.5 382.5,690.5 392.5,695.5 402.5,699.5 412.5,704.5 422.5,707.5 431.5,706.5 441.5,709.5 451.5,708.5 461.5,710.5 471.5,714.5 481.5,715.5 491.5,659.5 501.5,656.5 511.5,658.5 521.5,658.5 531.5,658.5 541.5,658.5 551.5,661.5 561.5,654.5 571.5,649.5 581.5,649.5 591.5,644.5 600.5,637.5 610.5,634.5 620.5,634.5 630.5,630.5 640.5,630.5 650.5,631.5 660.5,635.5 670.5,637.5 680.5,638.5 690.5,642.5 700.5,648.5 710.5,653.5 720.5,660.5 730.5,662.5 740.5,663.5 750.5,661.5 760.5,658.5 770.5,656.5 779.5,661.5 789.5,639.5 799.5,646.5 809.5,657.5 819.5,661.5 829.5,663.5 839.5,664.5 849.5,644.5 859.5,647.5" fill="none" stroke="#000" stroke-width="0.95"/>
<g fill="#fff" stroke="#000" stroke-width="1">
<path d="M162.5 668.5h2l2 2v4l-2 2h-2l-2 -2v-4z"/>
<path d="M172.5 673.5h2l2 2v4l-2 2h-2l-2 -2v-4z"/>
<path d="M182.5 677.5h2l2 2v4l-2 2h-2l-2 -2v-4z"/>
<path d="M192.5 676.5h2l2 2v4l-2 2h-2l-2 -2v-4z"/>
<path d="M202.5 674.5h2l2 2v4l-2 2h-2l-2 -2v-4z"/>
<path d="M212.5 673.5h2l2 2v4l-2 2h-2l-2 -2v-4z"/>
<path d="M222.5 673.5h2l2 2v4l-2 2h-2l-2 -2v-4z"/>
<path d="M232.5 675.5h2l2 2v4l-2 2h-2l-2 -2v-4z"/>
<path d="M242.5 679.5h2l2 2v4l-2 2h-2l-2 -2v-4z"/>
<path d="M251.5 681.5h2l2 2v4l-2 2h-2l-2 -2v-4z"/>
<path d="M261.5 679.5h2l2 2v4l-2 2h-2l-2 -2v-4z"/>
<path d="M271.5 682.5h2l2 2v4l-2 2h-2l-2 -2v-4z"/>
<path d="M281.5 686.5h2l2 2v4l-2 2h-2l-2 -2v-4z"/>
<path d="M291.5 692.5h2l2 2v4l-2 2h-2l-2 -2v-4z"/>
<path d="M301.5 696.5h2l2 2v4l-2 2h-2l-2 -2v-4z"/>
<path d="M311.5 699.5h2l2 2v4l-2 2h-2l-2 -2v-4z"/>
<path d="M321.5 680.5h2l2 2v4l-2 2h-2l-2 -2v-4z"/>
<path d="M331.5 684.5h2l2 2v4l-2 2h-2l-2 -2v-4z"/>
<path d="M341.5 686.5h2l2 2v4l-2 2h-2l-2 -2v-4z"/>
<path d="M351.5 690.5h2l2 2v4l-2 2h-2l-2 -2v-4z"/>
<path d="M361.5 690.5h2l2 2v4l-2 2h-2l-2 -2v-4z"/>
<path d="M371.5 682.5h2l2 2v4l-2 2h-2l-2 -2v-4z"/>
<path d="M381.5 686.5h2l2 2v4l-2 2h-2l-2 -2v-4z"/>
<path d="M391.5 691.5h2l2 2v4l-2 2h-2l-2 -2v-4z"/>
<path d="M401.5 695.5h2l2 2v4l-2 2h-2l-2 -2v-4z"/>
<path d="M411.5 700.5h2l2 2v4l-2 2h-2l-2 -2v-4z"/>
<path d="M421.5 703.5h2l2 2v4l-2 2h-2l-2 -2v-4z"/>
<path d="M430.5 702.5h2l2 2v4l-2 2h-2l-2 -2v-4z"/>
<path d="M440.5 705.5h2l2 2v4l-2 2h-2l-2 -2v-4z"/>
<path d="M450.5 704.5h2l2 2v4l-2 2h-2l-2 -2v-4z"/>
<path d="M460.5 706.5h2l2 2v4l-2 2h-2l-2 -2v-4z"/>
<path d="M470.5 710.5h2l2 2v4l-2 2h-2l-2 -2v-4z"/>
<path d="M480.5 711.5h2l2 2v4l-2 2h-2l-2 -2v-4z"/>
<path d="M490.5 655.5h2l2 2v4l-2 2h-2l-2 -2v-4z"/>
<path d="M500.5 652.5h2l2 2v4l-2 2h-2l-2 -2v-4z"/>
<path d="M510.5 654.5h2l2 2v4l-2 2h-2l-2 -2v-4z"/>
<path d="M520.5 654.5h2l2 2v4l-2 2h-2l-2 -2v-4z"/>
<path d="M530.5 654.5h2l2 2v4l-2 2h-2l-2 -2v-4z"/>
<path d="M540.5 654.5h2l2 2v4l-2 2h-2l-2 -2v-4z"/>
<path d="M550.5 657.5h2l2 2v4l-2 2h-2l-2 -2v-4z"/>
<path d="M560.5 650.5h2l2 2v4l-2 2h-2l-2 -2v-4z"/>
<path d="M570.5 645.5h2l2 2v4l-2 2h-2l-2 -2v-4z"/>
<path d="M580.5 645.5h2l2 2v4l-2 2h-2l-2 -2v-4z"/>
<path d="M590.5 640.5h2l2 2v4l-2 2h-2l-2 -2v-4z"/>
<path d="M599.5 633.5h2l2 2v4l-2 2h-2l-2 -2v-4z"/>
<path d="M609.5 630.5h2l2 2v4l-2 2h-2l-2 -2v-4z"/>
<path d="M619.5 630.5h2l2 2v4l-2 2h-2l-2 -2v-4z"/>
<path d="M629.5 626.5h2l2 2v4l-2 2h-2l-2 -2v-4z"/>
<path d="M639.5 626.5h2l2 2v4l-2 2h-2l-2 -2v-4z"/>
<path d="M649.5 627.5h2l2 2v4l-2 2h-2l-2 -2v-4z"/>
<path d="M659.5 631.5h2l2 2v4l-2 2h-2l-2 -2v-4z"/>
<path d="M669.5 633.5h2l2 2v4l-2 2h-2l-2 -2v-4z"/>
<path d="M679.5 634.5h2l2 2v4l-2 2h-2l-2 -2v-4z"/>
<path d="M689.5 638.5h2l2 2v4l-2 2h-2l-2 -2v-4z"/>
<path d="M699.5 644.5h2l2 2v4l-2 2h-2l-2 -2v-4z"/>
<path d="M709.5 649.5h2l2 2v4l-2 2h-2l-2 -2v-4z"/>
<path d="M719.5 656.5h2l2 2v4l-2 2h-2l-2 -2v-4z"/>
<path d="M729.5 658.5h2l2 2v4l-2 2h-2l-2 -2v-4z"/>
<path d="M739.5 659.5h2l2 2v4l-2 2h-2l-2 -2v-4z"/>
<path d="M749.5 657.5h2l2 2v4l-2 2h-2l-2 -2v-4z"/>
<path d="M759.5 654.5h2l2 2v4l-2 2h-2l-2 -2v-4z"/>
<path d="M769.5 652.5h2l2 2v4l-2 2h-2l-2 -2v-4z"/>
<path d="M778.5 657.5h2l2 2v4l-2 2h-2l-2 -2v-4z"/>
<path d="M788.5 635.5h2l2 2v4l-2 2h-2l-2 -2v-4z"/>
<path d="M798.5 642.5h2l2 2v4l-2 2h-2l-2 -2v-4z"/>
<path d="M808.5 653.5h2l2 2v4l-2 2h-2l-2 -2v-4z"/>
<path d="M818.5 657.5h2l2 2v4l-2 2h-2l-2 -2v-4z"/>
<path d="M828.5 659.5h2l2 2v4l-2 2h-2l-2 -2v-4z"/>
<path d="M838.5 660.5h2l2 2v4l-2 2h-2l-2 -2v-4z"/>
<path d="M848.5 640.5h2l2 2v4l-2 2h-2l-2 -2v-4z"/>
<path d="M858.5 643.5h2l2 2v4l-2 2h-2l-2 -2v-4z"/>
</g></g>
</g>
<g id="xaxis">
<text x="207.41" y="750" font-size="15.8" class="t" fill="#000" textLength="31.3" lengthAdjust="spacingAndGlyphs">5APR</text>
<text x="286.95" y="750" font-size="15.8" class="t" fill="#000" textLength="31.3" lengthAdjust="spacingAndGlyphs">6APR</text>
<text x="366.49" y="750" font-size="15.8" class="t" fill="#000" textLength="31.3" lengthAdjust="spacingAndGlyphs">7APR</text>
<text x="446.04" y="750" font-size="15.8" class="t" fill="#000" textLength="31.3" lengthAdjust="spacingAndGlyphs">8APR</text>
<text x="525.58" y="750" font-size="15.8" class="t" fill="#000" textLength="31.3" lengthAdjust="spacingAndGlyphs">9APR</text>
<text x="602.37" y="750" font-size="15.8" class="t" fill="#000" textLength="36.8" lengthAdjust="spacingAndGlyphs">10APR</text>
<text x="681.91" y="750" font-size="15.8" class="t" fill="#000" textLength="36.8" lengthAdjust="spacingAndGlyphs">11APR</text>
<text x="761.46" y="750" font-size="15.8" class="t" fill="#000" textLength="36.8" lengthAdjust="spacingAndGlyphs">12APR</text>
<text x="841" y="750" font-size="15.8" class="t" fill="#000" textLength="36.8" lengthAdjust="spacingAndGlyphs">13APR</text>
<text x="208" y="765.8" font-size="15.2" class="t" fill="#000" textLength="30.5" lengthAdjust="spacingAndGlyphs">2026</text>
</g>
<g id="footer">
<text y="768.3" font-size="12.8" class="t" fill="#000"><tspan x="621.74" textLength="40.6" lengthAdjust="spacingAndGlyphs">Fuente:</tspan> <tspan x="669.04" textLength="30.6" lengthAdjust="spacingAndGlyphs">Model</tspan> <tspan x="705.04" textLength="58.9" lengthAdjust="spacingAndGlyphs">WaveWatch</tspan> <tspan x="771.51" textLength="8.62" lengthAdjust="spacingAndGlyphs">–</tspan> <tspan x="786.34" textLength="64.3" lengthAdjust="spacingAndGlyphs">NCEP/NOAA</tspan></text>
<text y="787.3" font-size="14.1" class="t" fill="#000"><tspan x="194.84" textLength="71.46" lengthAdjust="spacingAndGlyphs">INTENSIDAD</tspan> <tspan x="274.34" textLength="21.76" lengthAdjust="spacingAndGlyphs">DEL</tspan> <tspan x="304.14" textLength="45.26" lengthAdjust="spacingAndGlyphs">OLEAJE</tspan> <tspan x="357.94" textLength="29.36" lengthAdjust="spacingAndGlyphs">&gt;&gt;&gt;</tspan></text>
<text y="786.9" font-size="13.6" class="m" fill="#00a0ff" stroke="#00a0ff" style="stroke-width:0.7px"><tspan x="403.36" textLength="30.55" lengthAdjust="spacingAndGlyphs">+++</tspan> <tspan x="441.16" textLength="39.45" lengthAdjust="spacingAndGlyphs">Ligero</tspan></text>
<text y="786.9" font-size="13.6" class="m" fill="#00d28c" stroke="#00d28c" style="stroke-width:0.7px"><tspan x="494.76" textLength="29.65" lengthAdjust="spacingAndGlyphs">+++</tspan> <tspan x="532.16" textLength="62.05" lengthAdjust="spacingAndGlyphs">Moderado</tspan></text>
<text y="786.9" font-size="13.6" class="m" fill="#e6dc32" stroke="#e6dc32" style="stroke-width:0.7px"><tspan x="607.66" textLength="29.65" lengthAdjust="spacingAndGlyphs">+++</tspan> <tspan x="645.46" textLength="40.15" lengthAdjust="spacingAndGlyphs">Fuerte</tspan></text>
<text y="786.9" font-size="13.6" class="m" fill="#fa3c3c" stroke="#fa3c3c" style="stroke-width:0.7px"><tspan x="697.46" textLength="29.65" lengthAdjust="spacingAndGlyphs">+++</tspan> <tspan x="735.89" textLength="7.69" lengthAdjust="spacingAndGlyphs">M</tspan> <tspan x="752.26" textLength="39.95" lengthAdjust="spacingAndGlyphs">Fuerte</tspan></text>
</g>
</svg>
</body></html>
